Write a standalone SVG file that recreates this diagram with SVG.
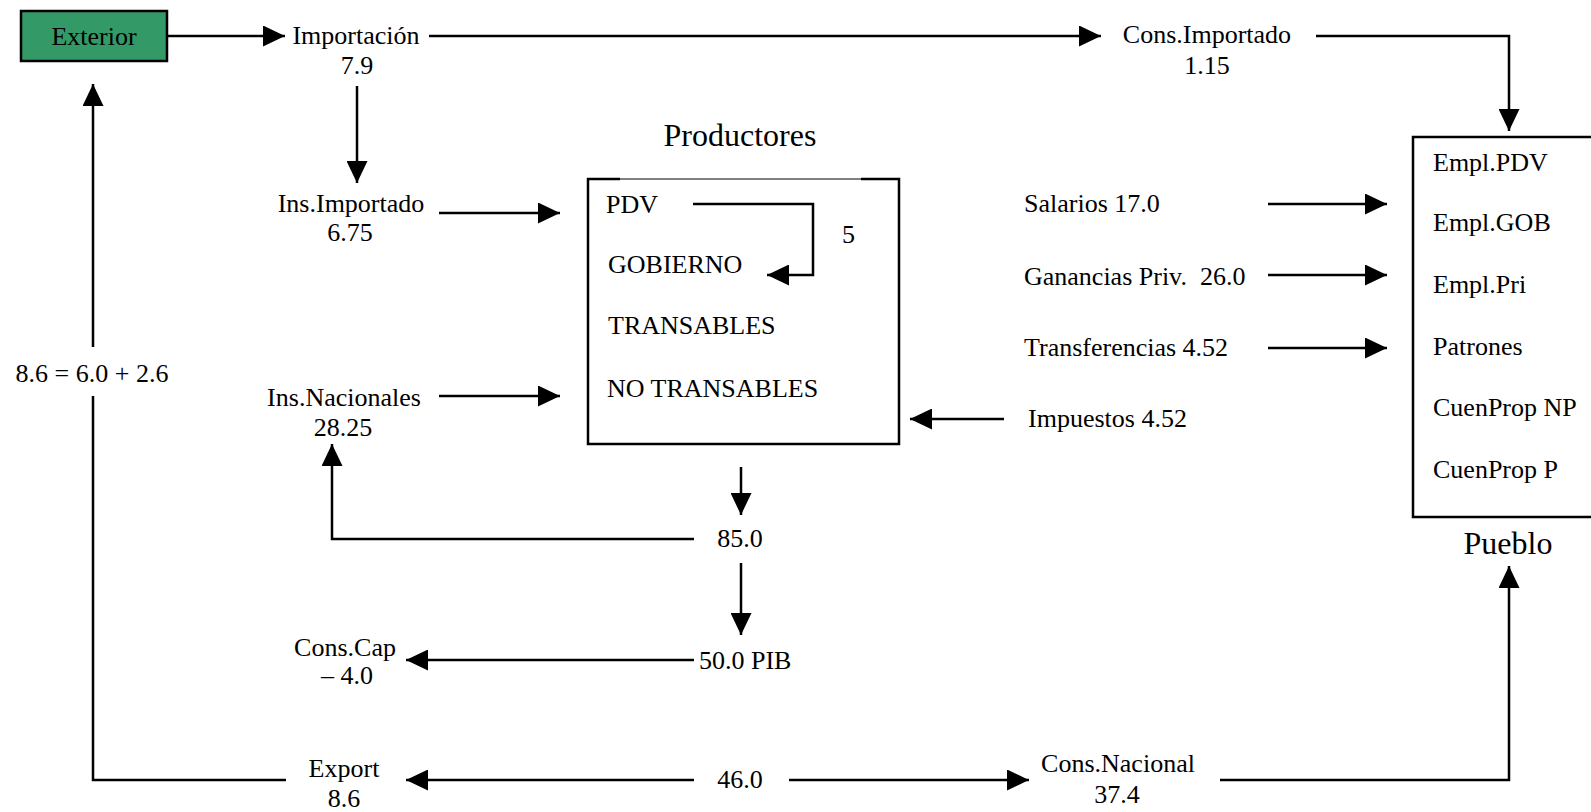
<svg xmlns="http://www.w3.org/2000/svg" width="1591" height="812" viewBox="0 0 1591 812">
<style>
text{font-family:"Liberation Serif","Times New Roman",serif;font-size:26px;fill:#000;white-space:pre}
.big{font-size:32px}
.m{text-anchor:middle}
.ln{fill:none;stroke:#000;stroke-width:2.5}
.arr{marker-end:url(#ah)}
.box{fill:#fff;stroke:#000;stroke-width:2.5}
</style>
<defs>
<marker id="ah" markerUnits="userSpaceOnUse" viewBox="0 0 22 21" markerWidth="22" markerHeight="21" refX="22" refY="10.5" orient="auto">
<path d="M0,0 L22,10.5 L0,21 Z" fill="#000"/>
</marker>
</defs>
<rect width="1591" height="812" fill="#fff"/>

<g id="connectors">
<path class="ln arr" d="M167,36 H285"/>
<path class="ln arr" d="M429,36 H1101"/>
<path class="ln arr" d="M1316,36 H1509 V131"/>
<path class="ln arr" d="M357,86 V183"/>
<path class="ln arr" d="M439,213 H560"/>
<path class="ln arr" d="M439,396 H560"/>
<path class="ln arr" d="M693,204 H813 V275 H767"/>
<path class="ln arr" d="M1004,419 H910"/>
<path class="ln arr" d="M1268,204 H1387"/>
<path class="ln arr" d="M1268,275 H1387"/>
<path class="ln arr" d="M1268,348 H1387"/>
<path class="ln arr" d="M741,467 V515"/>
<path class="ln arr" d="M694,539 H332 V444"/>
<path class="ln arr" d="M741,563 V635"/>
<path class="ln arr" d="M694,660 H406"/>
<path class="ln arr" d="M694,780 H406"/>
<path class="ln arr" d="M789,780 H1029"/>
<path class="ln arr" d="M1220,780 H1509 V566"/>
<path class="ln" d="M286,780 H93 V396"/>
<path class="ln arr" d="M93,347 V84"/>
</g>

<g id="exterior">
<rect x="21" y="11" width="146" height="50" fill="#339966" stroke="#000" stroke-width="2.5"/>
<text class="m" x="94" y="45">Exterior</text>
</g>

<g id="importacion">
<text class="m" x="356" y="44">Importación</text>
<text class="m" x="357" y="74">7.9</text>
</g>

<g id="cons-importado">
<text class="m" x="1207" y="43">Cons.Importado</text>
<text class="m" x="1207" y="74">1.15</text>
</g>

<g id="ins-importado">
<text class="m" x="351" y="212">Ins.Importado</text>
<text class="m" x="350" y="241">6.75</text>
</g>

<g id="ins-nacionales">
<text class="m" x="344" y="406">Ins.Nacionales</text>
<text class="m" x="343" y="436">28.25</text>
</g>

<g id="productores">
<text class="big m" x="740" y="146">Productores</text>
<path class="ln" d="M620,179 H588 V444 H899 V179 H861"/>
<path d="M620,179 H861" fill="none" stroke="#000" stroke-width="1"/>
<text x="606" y="213">PDV</text>
<text x="842" y="243">5</text>
<text x="608" y="273">GOBIERNO</text>
<text x="608" y="334">TRANSABLES</text>
<text x="607" y="397">NO TRANSABLES</text>
</g>

<g id="flujos">
<text x="1024" y="212">Salarios 17.0</text>
<text x="1024" y="285">Ganancias Priv.  26.0</text>
<text x="1024" y="356">Transferencias 4.52</text>
<text x="1028" y="427">Impuestos 4.52</text>
</g>

<g id="pueblo">
<rect class="box" x="1413" y="137" width="200" height="380"/>
<text x="1433" y="171">Empl.PDV</text>
<text x="1433" y="231">Empl.GOB</text>
<text x="1433" y="293">Empl.Pri</text>
<text x="1433" y="355">Patrones</text>
<text x="1433" y="416">CuenProp NP</text>
<text x="1433" y="478">CuenProp P</text>
<text class="big m" x="1508" y="554">Pueblo</text>
</g>

<g id="exportlabel">
<text class="m" x="92" y="382">8.6 = 6.0 + 2.6</text>
</g>

<g id="v85">
<text class="m" x="740" y="547">85.0</text>
</g>

<g id="pib">
<text x="699" y="669">50.0 PIB</text>
</g>

<g id="cons-cap">
<text class="m" x="345" y="656">Cons.Cap</text>
<text class="m" x="347" y="684">– 4.0</text>
</g>

<g id="export">
<text class="m" x="344" y="777">Export</text>
<text class="m" x="344" y="807">8.6</text>
</g>

<g id="v46">
<text class="m" x="740" y="788">46.0</text>
</g>

<g id="cons-nacional">
<text class="m" x="1118" y="772">Cons.Nacional</text>
<text class="m" x="1117" y="803">37.4</text>
</g>
</svg>
